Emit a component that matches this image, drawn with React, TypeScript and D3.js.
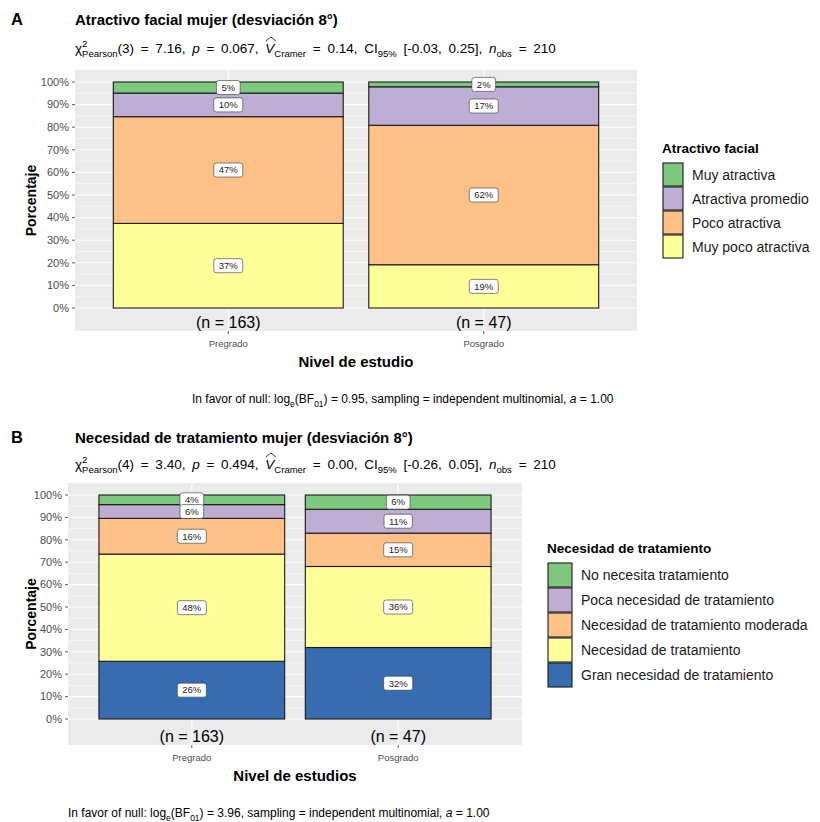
import React, { useEffect, useRef } from "react";
import * as d3 from "d3";

// ---- data ---------------------------------------------------------------
const levels = ["Pregrado", "Posgrado"];
const nLabels = ["(n = 163)", "(n = 47)"];

// Panel A: counts per facial attractiveness category, stacked bottom to top
const faceCats = ["Muy poco atractiva", "Poco atractiva", "Atractiva promedio", "Muy atractiva"];
const facePregrado = [61, 77, 17, 8];
const facePosgrado = [9, 29, 8, 1];
const faceColors = ["#FFFF99", "#FDC086", "#BEAED4", "#7FC97F"];

// Panel B: counts per treatment need category, stacked bottom to top
const treatCats = [
  "Gran necesidad de tratamiento",
  "Necesidad de tratamiento",
  "Necesidad de tratamiento moderada",
  "Poca necesidad de tratamiento",
  "No necesita tratamiento",
];
const treatPregrado = [42, 78, 26, 10, 7];
const treatPosgrado = [15, 17, 7, 5, 3];
const treatColors = ["#386CB0", "#FFFF99", "#FDC086", "#BEAED4", "#7FC97F"];

const yTickValues = [0, 0.1, 0.2, 0.3, 0.4, 0.5, 0.6, 0.7, 0.8, 0.9, 1];
const yTickLabels = ["0%", "10%", "20%", "30%", "40%", "50%", "60%", "70%", "80%", "90%", "100%"];

const FONT = "'Liberation Sans', Arial, Helvetica, sans-serif";

type Seg = { t: string; italic?: boolean; sub?: string; sup?: string; hat?: boolean };
type G = d3.Selection<SVGGElement, unknown, null, undefined>;

// Writes a run of text pieces left to right, with optional sub/superscripts
function richText(g: G, x: number, y: number, segs: Seg[], size: number, subSize: number, wordSpacing = 0) {
  let cx = x;
  for (const s of segs) {
    let w = 0;
    if (s.t) {
      const t = g
        .append("text")
        .attr("x", cx)
        .attr("y", y)
        .attr("font-size", size)
        .attr("font-family", FONT)
        .attr("font-style", s.italic ? "italic" : "normal")
        .attr("fill", "#000")
        .attr("word-spacing", wordSpacing)
        .style("white-space", "pre")
        .text(s.t);
      w = (t.node() as SVGTextElement).getComputedTextLength();
      if (s.hat) {
        const top = y - size * 0.78;
        g.append("path")
          .attr("d", `M${cx + 0.5},${top - 1.5} L${cx + w / 2 + 1},${top - 5.5} L${cx + w + 1.5},${top - 1.5}`)
          .attr("fill", "none")
          .attr("stroke", "#000")
          .attr("stroke-width", 0.8);
      }
    }
    cx += w;
    let extra = 0;
    if (s.sub) {
      const t = g
        .append("text")
        .attr("x", cx)
        .attr("y", y + size * 0.3)
        .attr("font-size", subSize)
        .attr("font-family", FONT)
        .text(s.sub);
      extra = Math.max(extra, (t.node() as SVGTextElement).getComputedTextLength());
    }
    if (s.sup) {
      const t = g
        .append("text")
        .attr("x", cx)
        .attr("y", y - size * 0.45)
        .attr("font-size", subSize)
        .attr("font-family", FONT)
        .text(s.sup);
      extra = Math.max(extra, (t.node() as SVGTextElement).getComputedTextLength());
    }
    cx += extra;
  }
  return cx - x;
}

type PanelCfg = {
  tag: string;
  title: string;
  subtitle: Seg[];
  caption: Seg[];
  captionX: number;
  xTitle: string;
  legendTitle: string;
  cats: string[];
  colors: string[];
  counts: number[][];
  left: number;
  right: number;
  top: number;
  bottom: number;
  y0: number;
  y1: number;
  titleY: number;
  subY: number;
  legendX: number;
  legendY: number;
  keyW: number;
  keyH: number;
};

function drawPanel(svg: d3.Selection<SVGSVGElement, unknown, null, undefined>, c: PanelCfg) {
  const g = svg.append("g") as unknown as G;

  // header
  g.append("text")
    .attr("x", 11)
    .attr("y", c.titleY)
    .attr("font-size", 16.5)
    .attr("font-weight", "bold")
    .attr("font-family", FONT)
    .text(c.tag);
  g.append("text")
    .attr("x", 75)
    .attr("y", c.titleY)
    .attr("font-size", 15)
    .attr("font-weight", "bold")
    .attr("font-family", FONT)
    .text(c.title);
  richText(g, 75, c.subY, c.subtitle, 13.5, 9.5, 3);

  // scales
  const x = d3.scaleLinear().domain([0.4, 2.6]).range([c.left, c.right]);
  const y = d3.scaleLinear().domain([0, 1]).range([c.y0, c.y1]);

  // panel background + grid
  g.append("rect")
    .attr("x", c.left)
    .attr("y", c.top)
    .attr("width", c.right - c.left)
    .attr("height", c.bottom - c.top)
    .attr("fill", "#EBEBEB");
  const minor = d3.range(0.05, 1, 0.1);
  g.selectAll(".minor")
    .data(minor)
    .enter()
    .append("line")
    .attr("x1", c.left)
    .attr("x2", c.right)
    .attr("y1", (d) => y(d))
    .attr("y2", (d) => y(d))
    .attr("stroke", "#fff")
    .attr("stroke-width", 0.55);
  g.selectAll(".major")
    .data(yTickValues)
    .enter()
    .append("line")
    .attr("x1", c.left)
    .attr("x2", c.right)
    .attr("y1", (d) => y(d))
    .attr("y2", (d) => y(d))
    .attr("stroke", "#fff")
    .attr("stroke-width", 1.1);
  levels.forEach((_, i) => {
    g.append("line")
      .attr("x1", x(i + 1))
      .attr("x2", x(i + 1))
      .attr("y1", c.top)
      .attr("y2", c.bottom)
      .attr("stroke", "#fff")
      .attr("stroke-width", 1.1);
  });

  // y axis ticks
  yTickValues.forEach((v, i) => {
    g.append("line")
      .attr("x1", c.left - 3)
      .attr("x2", c.left)
      .attr("y1", y(v))
      .attr("y2", y(v))
      .attr("stroke", "#333")
      .attr("stroke-width", 0.8);
    g.append("text")
      .attr("x", c.left - 6)
      .attr("y", y(v))
      .attr("dy", "0.35em")
      .attr("text-anchor", "end")
      .attr("font-size", 11)
      .attr("font-family", FONT)
      .attr("fill", "#4D4D4D")
      .text(yTickLabels[i]);
  });
  g.append("text")
    .attr("transform", `translate(36,${(c.top + c.bottom) / 2}) rotate(-90)`)
    .attr("text-anchor", "middle")
    .attr("font-size", 14)
    .attr("font-weight", "bold")
    .attr("font-family", FONT)
    .text("Porcentaje");

  // stacked bars
  const labels: { x: number; y: number; t: string }[] = [];
  c.counts.forEach((row, i) => {
    const total = d3.sum(row);
    let acc = 0;
    const xl = x(i + 1 - 0.45);
    const xr = x(i + 1 + 0.45);
    row.forEach((n, k) => {
      const p0 = acc / total;
      const p1 = (acc + n) / total;
      acc += n;
      g.append("rect")
        .attr("x", xl)
        .attr("y", y(p1))
        .attr("width", xr - xl)
        .attr("height", y(p0) - y(p1))
        .attr("fill", c.colors[k])
        .attr("stroke", "#1a1a1a")
        .attr("stroke-width", 1.1);
      labels.push({ x: x(i + 1), y: y((p0 + p1) / 2), t: `${Math.round((n / total) * 100)}%` });
    });
    // n label inside panel, x tick and category label below
    g.append("text")
      .attr("x", x(i + 1))
      .attr("y", c.bottom - 3)
      .attr("text-anchor", "middle")
      .attr("font-size", 16)
      .attr("font-family", FONT)
      .text(nLabels[i]);
    g.append("line")
      .attr("x1", x(i + 1))
      .attr("x2", x(i + 1))
      .attr("y1", c.bottom)
      .attr("y2", c.bottom + 3)
      .attr("stroke", "#333")
      .attr("stroke-width", 0.8);
    g.append("text")
      .attr("x", x(i + 1))
      .attr("y", c.bottom + 16)
      .attr("text-anchor", "middle")
      .attr("font-size", 9.5)
      .attr("font-family", FONT)
      .attr("fill", "#4D4D4D")
      .text(levels[i]);
  });

  // percentage labels, top segments first so lower boxes sit above them
  labels
    .slice()
    .reverse()
    .forEach((l) => {
      const lg = g.append("g");
      const t = lg
        .append("text")
        .attr("x", l.x)
        .attr("y", l.y)
        .attr("dy", "0.35em")
        .attr("text-anchor", "middle")
        .attr("font-size", 9.5)
        .attr("font-family", FONT)
        .attr("fill", "#222")
        .text(l.t);
      const w = (t.node() as SVGTextElement).getComputedTextLength();
      lg.insert("rect", "text")
        .attr("x", l.x - w / 2 - 5)
        .attr("y", l.y - 7)
        .attr("width", w + 10)
        .attr("height", 14)
        .attr("rx", 2.5)
        .attr("fill", "#fff")
        .attr("stroke", "#333")
        .attr("stroke-width", 0.6);
    });

  // x axis title
  g.append("text")
    .attr("x", (c.left + c.right) / 2)
    .attr("y", c.bottom + 36)
    .attr("text-anchor", "middle")
    .attr("font-size", 15)
    .attr("font-weight", "bold")
    .attr("font-family", FONT)
    .text(c.xTitle);

  // caption
  richText(g, c.captionX, c.bottom + 72, c.caption, 12, 8.5);

  // legend
  g.append("text")
    .attr("x", c.legendX)
    .attr("y", c.legendY)
    .attr("font-size", 13.5)
    .attr("font-weight", "bold")
    .attr("font-family", FONT)
    .text(c.legendTitle);
  const order = d3.range(c.cats.length).reverse();
  order.forEach((k, j) => {
    const ky = c.legendY + 10 + j * c.keyH;
    g.append("rect")
      .attr("x", c.legendX + 1)
      .attr("y", ky)
      .attr("width", c.keyW)
      .attr("height", c.keyH - 1)
      .attr("fill", c.colors[k])
      .attr("stroke", "#1a1a1a")
      .attr("stroke-width", 1.1);
    g.append("text")
      .attr("x", c.legendX + c.keyW + 10)
      .attr("y", ky + c.keyH / 2)
      .attr("dy", "0.35em")
      .attr("font-size", 14)
      .attr("font-family", FONT)
      .attr("fill", "#1a1a1a")
      .text(c.cats[k]);
  });
}

export default function App() {
  const ref = useRef<SVGSVGElement>(null);

  useEffect(() => {
    const svg = d3.select(ref.current as SVGSVGElement);
    svg.selectAll("*").remove();
    svg.append("rect").attr("width", 820).attr("height", 822).attr("fill", "#fff");

    drawPanel(svg, {
      tag: "A",
      title: "Atractivo facial mujer (desviación 8°)",
      subtitle: [
        { t: "χ", sub: "Pearson", sup: "2" },
        { t: "(3) = 7.16, " },
        { t: "p", italic: true },
        { t: " = 0.067, " },
        { t: "V", italic: true, hat: true, sub: "Cramer" },
        { t: " = 0.14, CI", sub: "95%" },
        { t: " [-0.03, 0.25], " },
        { t: "n", italic: true, sub: "obs" },
        { t: " = 210" },
      ],
      caption: [
        { t: "In favor of null: log", sub: "e" },
        { t: "(BF", sub: "01" },
        { t: ") = 0.95, sampling = independent multinomial, " },
        { t: "a", italic: true },
        { t: " = 1.00" },
      ],
      captionX: 192,
      xTitle: "Nivel de estudio",
      legendTitle: "Atractivo facial",
      cats: faceCats,
      colors: faceColors,
      counts: [facePregrado, facePosgrado],
      left: 75,
      right: 637,
      top: 70,
      bottom: 331,
      y0: 308,
      y1: 82,
      titleY: 25,
      subY: 53,
      legendX: 662,
      legendY: 153,
      keyW: 20,
      keyH: 24,
    });

    drawPanel(svg, {
      tag: "B",
      title: "Necesidad de tratamiento mujer (desviación 8°)",
      subtitle: [
        { t: "χ", sub: "Pearson", sup: "2" },
        { t: "(4) = 3.40, " },
        { t: "p", italic: true },
        { t: " = 0.494, " },
        { t: "V", italic: true, hat: true, sub: "Cramer" },
        { t: " = 0.00, CI", sub: "95%" },
        { t: " [-0.26, 0.05], " },
        { t: "n", italic: true, sub: "obs" },
        { t: " = 210" },
      ],
      caption: [
        { t: "In favor of null: log", sub: "e" },
        { t: "(BF", sub: "01" },
        { t: ") = 3.96, sampling = independent multinomial, " },
        { t: "a", italic: true },
        { t: " = 1.00" },
      ],
      captionX: 68,
      xTitle: "Nivel de estudios",
      legendTitle: "Necesidad de tratamiento",
      cats: treatCats,
      colors: treatColors,
      counts: [treatPregrado, treatPosgrado],
      left: 68,
      right: 522,
      top: 483,
      bottom: 745,
      y0: 719,
      y1: 495,
      titleY: 443,
      subY: 469,
      legendX: 547,
      legendY: 553,
      keyW: 24,
      keyH: 25,
    });
  }, []);

  return (
    <svg
      ref={ref}
      width={820}
      height={822}
      style={{ position: "absolute", left: 0, top: 0, display: "block" }}
    />
  );
}
